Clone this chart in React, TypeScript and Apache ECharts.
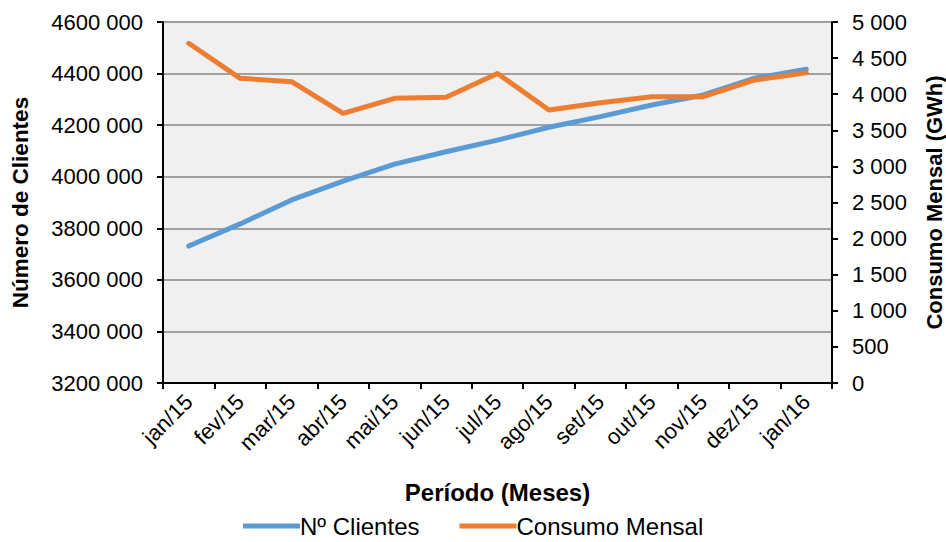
import React, { useEffect, useRef } from "react";
import * as echarts from "echarts";

const categories = ["jan/15", "fev/15", "mar/15", "abr/15", "mai/15", "jun/15", "jul/15", "ago/15", "set/15", "out/15", "nov/15", "dez/15", "jan/16"];
const clientes = [3731000, 3817000, 3910000, 3983000, 4049000, 4097000, 4142000, 4192000, 4233000, 4278000, 4317000, 4382000, 4417000];
const consumo = [4705, 4220, 4173, 3735, 3943, 3957, 4287, 3781, 3882, 3965, 3965, 4197, 4298];
const leftTicks = { min: 3200000, max: 4600000, interval: 200000 };
const rightTicks = { min: 0, max: 5000, interval: 500 };

const FONT = "'Liberation Sans', Arial, sans-serif";

function fmtLeft(v: number): string {
  const th = Math.floor(v / 1000);
  const rest = String(v % 1000).padStart(3, "0");
  return th + " " + rest;
}
function fmtRight(v: number): string {
  if (v < 1000) return String(v);
  const th = Math.floor(v / 1000);
  const rest = String(v % 1000).padStart(3, "0");
  return th + " " + rest;
}

export default function App() {
  const ref = useRef<HTMLDivElement>(null);
  useEffect(() => {
    if (!ref.current) return;
    const chart = echarts.init(ref.current, null, { renderer: "svg" });
    const axisLine = { show: true, lineStyle: { color: "#000", width: 2 } };
    const axisTick = { show: true, length: 6, lineStyle: { color: "#000", width: 2 } };
    chart.setOption({
      animation: false,
      backgroundColor: "#fff",
      textStyle: { fontFamily: FONT },
      grid: {
        left: 163, right: 114, top: 22, bottom: 159,
        show: true, backgroundColor: "#f0f0f0", borderWidth: 0,
        containLabel: false,
        outerBoundsMode: "none",
      },
      legend: {
        data: ["Nº Clientes", "Consumo Mensal"],
        top: 514,
        left: 243,
        padding: 0,
        icon: "rect",
        itemWidth: 57,
        itemHeight: 5,
        itemGap: 40,
        textStyle: { fontFamily: FONT, fontSize: 24, color: "#000", padding: [0, 0, 0, -5] },
      },
      xAxis: {
        type: "category",
        data: categories,
        boundaryGap: true,
        axisLine,
        axisTick: { ...axisTick, alignWithLabel: false },
        axisLabel: { rotate: 45, fontSize: 22, color: "#000", margin: 15, fontFamily: FONT, interval: 0 },
        name: "Período (Meses)",
        nameLocation: "middle",
        nameGap: 97,
        nameTextStyle: { fontSize: 24, fontWeight: "bold", color: "#000", fontFamily: FONT },
        splitLine: { show: false },
      },
      yAxis: [
        {
          type: "value",
          position: "left",
          min: leftTicks.min, max: leftTicks.max, interval: leftTicks.interval,
          axisLine, axisTick,
          axisLabel: { fontSize: 22, color: "#000", margin: 20, formatter: fmtLeft, fontFamily: FONT },
          splitLine: { show: true, lineStyle: { color: "#a0a0a0", width: 2 } },
          name: "Número de Clientes",
          nameLocation: "middle",
          nameGap: 131,
          nameTextStyle: { fontSize: 22.5, fontWeight: "bold", color: "#000", fontFamily: FONT },
        },
        {
          type: "value",
          position: "right",
          min: rightTicks.min, max: rightTicks.max, interval: rightTicks.interval,
          axisLine, axisTick,
          axisLabel: { fontSize: 22, color: "#000", margin: 20, formatter: fmtRight, fontFamily: FONT },
          splitLine: { show: false },
          name: "Consumo Mensal (GWh)",
          nameLocation: "middle",
          nameGap: 91,
          nameTextStyle: { fontSize: 22, fontWeight: "bold", color: "#000", fontFamily: FONT },
        },
      ],
      series: [
        {
          name: "Nº Clientes",
          type: "line",
          yAxisIndex: 0,
          data: clientes,
          showSymbol: false,
          symbol: "none",
          itemStyle: { color: "#5B9BD5" },
          lineStyle: { color: "#5B9BD5", width: 5, cap: "round", join: "round" },
        },
        {
          name: "Consumo Mensal",
          type: "line",
          yAxisIndex: 1,
          data: consumo,
          showSymbol: false,
          symbol: "none",
          itemStyle: { color: "#ED7D31" },
          lineStyle: { color: "#ED7D31", width: 5, cap: "round", join: "round" },
        },
      ],
    });
    return () => chart.dispose();
  }, []);
  return <div ref={ref} style={{ position: "fixed", left: 0, top: 0, width: 946, height: 542 }} />;
}
